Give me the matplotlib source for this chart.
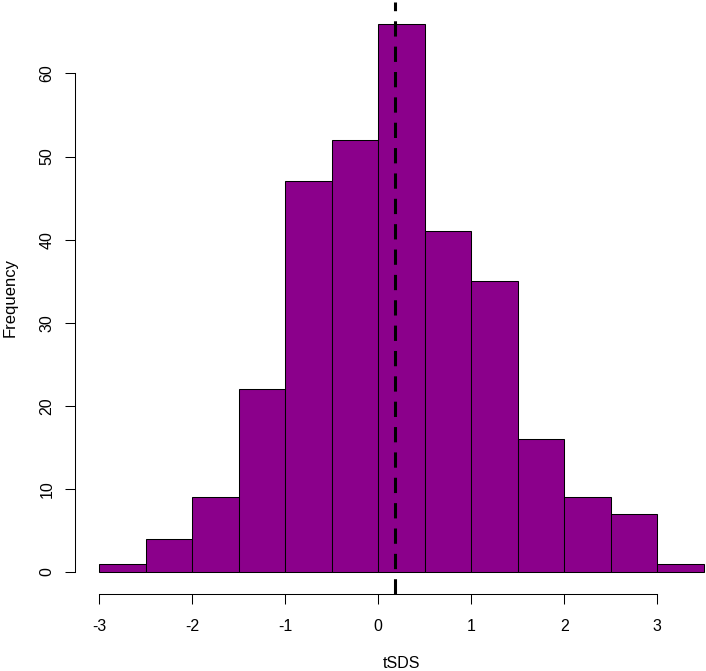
import numpy as np
import matplotlib
matplotlib.use("Agg")
import matplotlib.pyplot as plt

# histogram of tSDS, breaks every 0.5
breaks = [-3.0, -2.5, -2.0, -1.5, -1.0, -0.5, 0.0, 0.5, 1.0, 1.5, 2.0, 2.5, 3.0, 3.5]
counts = [1, 4, 9, 22, 47, 52, 66, 41, 35, 16, 9, 7, 1]
mean_line = 0.18
xticks = [-3, -2, -1, 0, 1, 2, 3]
yticks = [0, 10, 20, 30, 40, 50, 60]

plt.rcParams['font.family'] = ['Liberation Sans', 'DejaVu Sans']

W, H = 706, 671
fig = plt.figure(figsize=(W / 100, H / 100), dpi=100)

# plot region in pixels (R-like, right part cropped off the image)
left, right, top, bottom = 75, 728, 1.6, 594
ax = fig.add_axes([left / W, 1 - bottom / H, (right - left) / W, (bottom - top) / H])

edges = np.array(breaks)
ax.bar(edges[:-1], counts, width=np.diff(edges), align='edge',
       color='#8B008B', edgecolor='black', linewidth=0.75, zorder=2)
ax.axvline(mean_line, color='black', linewidth=2.2, dashes=(5, 3.3), zorder=3)

ax.set_xlim(-3.26, 3.76)
ax.set_ylim(-2.64, 68.64)

for s in ['top', 'right']:
    ax.spines[s].set_visible(False)
ax.spines['bottom'].set_bounds(-3, 3)
ax.spines['left'].set_bounds(0, 60)
ax.spines['bottom'].set_linewidth(0.75)
ax.spines['left'].set_linewidth(0.75)

ax.set_xticks(xticks)
ax.set_xticklabels([str(t) for t in xticks])
ax.set_yticks(yticks)
ax.set_yticklabels([str(t) for t in yticks], rotation=90, va='center')
ax.tick_params(axis='both', length=7.2, width=0.75, labelsize=11.5)
ax.tick_params(axis='x', pad=10.5)
ax.tick_params(axis='y', pad=7.5)

fig.text(402 / W, 1 - 663 / H, 'tSDS', ha='center', va='center', fontsize=11.5)
fig.text(10 / W, 1 - 297.5 / H, 'Frequency', ha='center', va='center',
         rotation=90, fontsize=12)

fig.savefig('out.png', dpi=100)
